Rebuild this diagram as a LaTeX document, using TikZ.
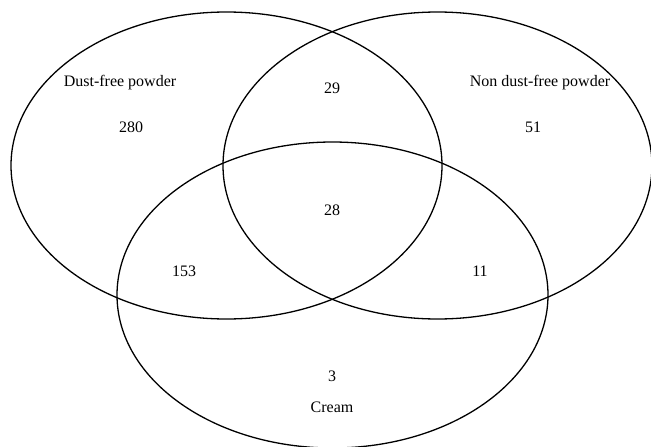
\documentclass[tikz,border=0pt]{standalone}
\usepackage{fontspec}
\setmainfont{Liberation Serif}
\usepackage{tikz}
\usetikzlibrary{positioning}
\tikzset{set/.style={draw,line width=1.3pt}}
\tikzset{label/.style={font=\fontsize{16}{19}\selectfont,inner sep=0pt}}
\tikzset{count/.style={label}}

\begin{document}
\begin{tikzpicture}[x=1pt,y=-1pt]
		\useasboundingbox (0,0) rectangle (651,447);
		% the three sets
		\coordinate (dfp) at (226.5,165.5);
		\coordinate (ndfp) at (437.5,165.5);
		\coordinate (cream) at (332.5,295);
		\path[set] (dfp) ellipse [x radius=215.5pt,y radius=153.5pt];
		\path[set] (ndfp) ellipse [x radius=214.5pt,y radius=153.5pt];
		\path[set] (cream) ellipse [x radius=215.5pt,y radius=153pt];
		% set names
		\node[label] (ldfp) at (120,83) {Dust-free powder};
		\node[label] (lndfp) at (540,83) {Non dust-free powder};
		\node[label] (lcream) at (332,407) {Cream};
		% counts
		\node[count] (c1) at (131,127) {280};
		\node[count] (c2) at (533,127) {51};
		\node[count] (c12) at (332,88) {29};
		\node[count] (c123) at (332,210) {28};
		\node[count] (c13) at (184,271) {153};
		\node[count] (c23) at (480,271) {11};
		\node[count] (c3) at (332,376) {3};
	\end{tikzpicture}
\end{document}
